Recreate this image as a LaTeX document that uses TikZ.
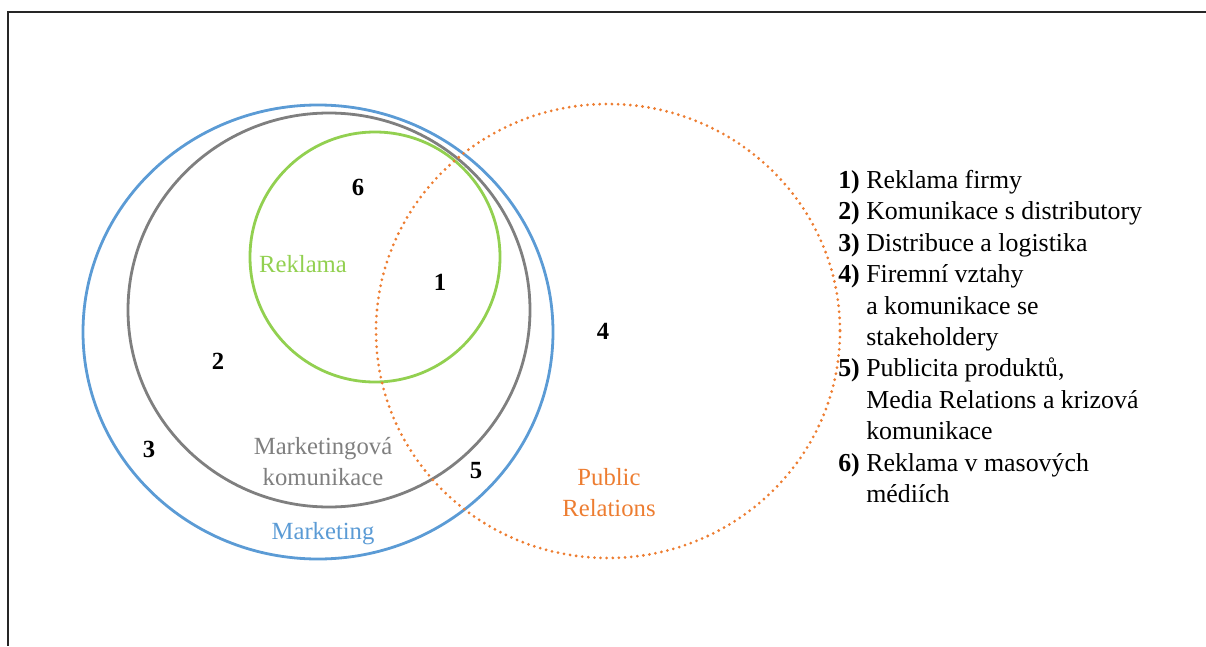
\documentclass[tikz,border=0pt]{standalone}
\usepackage{fontspec}
\setmainfont{Liberation Serif}
\definecolor{mktblue}{HTML}{5B9BD5}
\definecolor{mkgray}{HTML}{7F7F7F}
\definecolor{adgreen}{HTML}{92D050}
\definecolor{prorange}{HTML}{ED7D31}
\definecolor{framegray}{HTML}{262626}
\tikzset{
  ring/.style={line width=2.1pt},
  prdots/.style={draw=prorange, line width=2.3pt, line cap=round, dash pattern=on 0pt off 4.6pt},
  setlabel/.style={font=\fontsize{18.5}{23}\selectfont, align=center, inner sep=0pt},
  areanum/.style={font=\fontsize{18.5}{23}\selectfont\bfseries, inner sep=0pt},
  legline/.style={font=\fontsize{19.4}{24}\selectfont, anchor=base west, inner sep=0pt},
}
\begin{document}
\begin{tikzpicture}[x=0.75pt, y=-0.75pt]
\useasboundingbox (0,0) rectangle (1206,646);
% page frame: top and left rules
\coordinate (ftr) at (1206,12);
\coordinate (ftl) at (8,12);
\coordinate (fbl) at (8,646);
\draw[framegray, line width=1.3pt] (ftr) -- (ftl) -- (fbl);

% sets
\draw[ring, mktblue] (318,332) ellipse [x radius=235, y radius=227];
\draw[ring, mkgray] (329,310) ellipse [x radius=201, y radius=197];
\draw[ring, adgreen] (375,257) ellipse [x radius=125, y radius=125];
\draw[prdots] (608,331) ellipse [x radius=232, y radius=227];

% set names
\node[setlabel, text=adgreen] (lreklama) at (303,264) {Reklama};
\node[setlabel, text=mkgray, anchor=base] (lmk1) at (323,454) {Marketingová};
\node[setlabel, text=mkgray, anchor=base] (lmk2) at (323,485) {komunikace};
\node[setlabel, text=mktblue, anchor=base] (lmkt) at (323,539) {Marketing};
\node[setlabel, text=prorange, anchor=base] (lpr1) at (609,485) {Public};
\node[setlabel, text=prorange, anchor=base] (lpr2) at (609,516) {Relations};

% area numbers
\node[areanum] (n6) at (358,187) {6};
\node[areanum] (n1) at (440,282) {1};
\node[areanum] (n2) at (218,361) {2};
\node[areanum] (n4) at (603,331) {4};
\node[areanum] (n3) at (149,449) {3};
\node[areanum] (n5) at (476,471) {5};

% key
\node[legline] (k1)  at (838,188.5) {\textbf{1)} Reklama firmy};
\node[legline] (k2)  at (838,219.9) {\textbf{2)} Komunikace s distributory};
\node[legline] (k3)  at (838,251.3) {\textbf{3)} Distribuce a logistika};
\node[legline] (k4)  at (838,282.7) {\textbf{4)} Firemní vztahy};
\node[legline] (k4b) at (866,314.1) {a komunikace se};
\node[legline] (k4c) at (866,345.5) {stakeholdery};
\node[legline] (k5)  at (838,376.9) {\textbf{5)} Publicita produktů,};
\node[legline] (k5b) at (866,408.3) {Media Relations a krizová};
\node[legline] (k5c) at (866,439.7) {komunikace};
\node[legline] (k6)  at (838,471.1) {\textbf{6)} Reklama v masových};
\node[legline] (k6b) at (866,502.5) {médiích};
\end{tikzpicture}
\end{document}
